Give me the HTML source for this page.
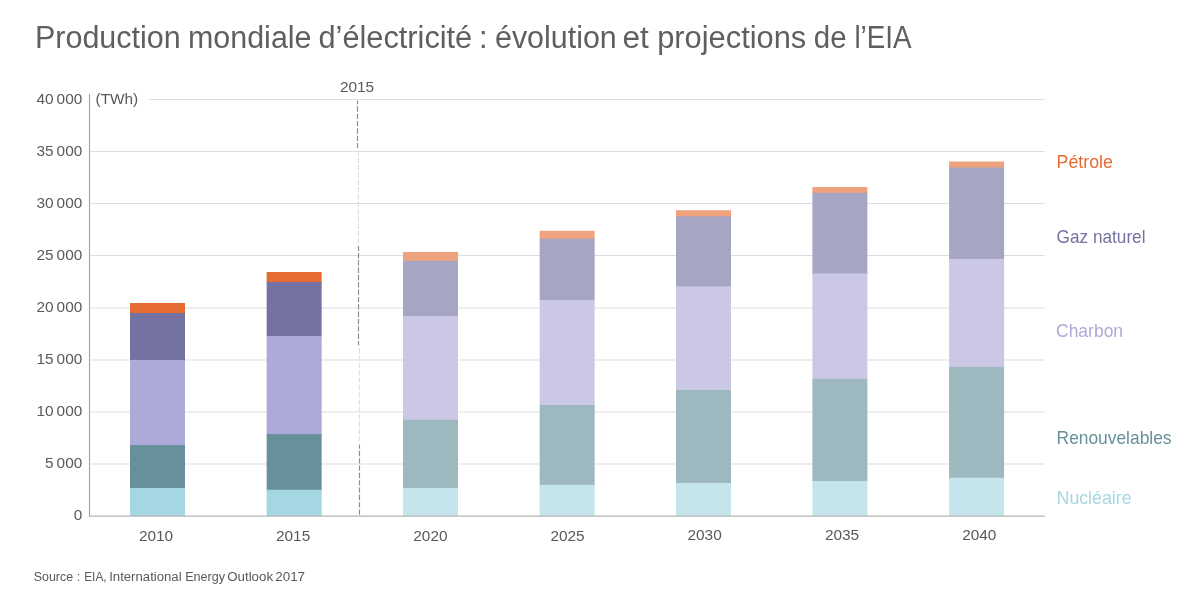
<!DOCTYPE html>
<html lang="fr">
<head>
<meta charset="utf-8">
<title>Production mondiale d’électricité</title>
<style>
html,body{margin:0;padding:0;background:#fff;}
body{width:1200px;height:600px;overflow:hidden;}
svg{display:block;}
text{font-family:"Liberation Sans",sans-serif;}
</style>
</head>
<body>
<svg width="1200" height="600" viewBox="0 0 1200 600">
<rect x="0" y="0" width="1200" height="600" fill="#ffffff"/>

<line x1="149" y1="99.5" x2="1044.5" y2="99.5" stroke="#dcdde0" stroke-width="1"/>
<line x1="90" y1="151.5" x2="1044.5" y2="151.5" stroke="#dcdde0" stroke-width="1"/>
<line x1="90" y1="203.5" x2="1044.5" y2="203.5" stroke="#dcdde0" stroke-width="1"/>
<line x1="90" y1="255.5" x2="1044.5" y2="255.5" stroke="#dcdde0" stroke-width="1"/>
<line x1="90" y1="308" x2="1044.5" y2="308" stroke="#dcdde0" stroke-width="1"/>
<line x1="90" y1="360" x2="1044.5" y2="360" stroke="#dcdde0" stroke-width="1"/>
<line x1="90" y1="412" x2="1044.5" y2="412" stroke="#dcdde0" stroke-width="1"/>
<line x1="90" y1="464" x2="1044.5" y2="464" stroke="#dcdde0" stroke-width="1"/>
<line x1="357.5" y1="100.5" x2="357.5" y2="148" stroke="#8c8c92" stroke-width="1.15" stroke-dasharray="5.33 2" stroke-dashoffset="1.5"/>
<line x1="358.4" y1="148" x2="358.4" y2="246" stroke="#dddde0" stroke-width="1.15" stroke-dasharray="5.33 2" stroke-dashoffset="5.02"/>
<line x1="358.5" y1="246" x2="358.5" y2="345" stroke="#8c8c92" stroke-width="1.15" stroke-dasharray="5.33 2" stroke-dashoffset="0.4"/>
<line x1="359.3" y1="345" x2="359.3" y2="445" stroke="#dddde0" stroke-width="1.15" stroke-dasharray="5.33 2" stroke-dashoffset="4.11"/>
<line x1="359.5" y1="445" x2="359.5" y2="516" stroke="#8c8c92" stroke-width="1.15" stroke-dasharray="5.33 2" stroke-dashoffset="1.49"/>
<rect x="130" y="303" width="55" height="11" fill="#E46C32"/>
<rect x="130" y="313" width="55" height="48" fill="#7472A2"/>
<rect x="130" y="360" width="55" height="86" fill="#ADA9D8"/>
<rect x="130" y="445" width="55" height="44" fill="#66909A"/>
<rect x="130" y="488" width="55" height="28" fill="#A5D7E2"/>
<rect x="266.65" y="272" width="55" height="11" fill="#E46C32"/>
<rect x="266.65" y="282" width="55" height="55" fill="#7472A2"/>
<rect x="266.65" y="336" width="55" height="99.2" fill="#ADA9D8"/>
<rect x="266.65" y="434.2" width="55" height="56.5" fill="#66909A"/>
<rect x="266.65" y="489.7" width="55" height="26.3" fill="#A5D7E2"/>
<rect x="403" y="252" width="55" height="9.8" fill="#EFA27E"/>
<rect x="403" y="260.8" width="55" height="56.2" fill="#A6A6C4"/>
<rect x="403" y="316" width="55" height="104.7" fill="#CBC8E5"/>
<rect x="403" y="419.7" width="55" height="69.2" fill="#9EB8BF"/>
<rect x="403" y="487.9" width="55" height="28.1" fill="#C4E5EC"/>
<rect x="539.65" y="230.8" width="55" height="8.9" fill="#EFA27E"/>
<rect x="539.65" y="238.7" width="55" height="62.3" fill="#A6A6C4"/>
<rect x="539.65" y="300" width="55" height="106" fill="#CBC8E5"/>
<rect x="539.65" y="405" width="55" height="80.8" fill="#9EB8BF"/>
<rect x="539.65" y="484.8" width="55" height="31.2" fill="#C4E5EC"/>
<rect x="676" y="210.2" width="55" height="7.1" fill="#EFA27E"/>
<rect x="676" y="216.3" width="55" height="71.1" fill="#A6A6C4"/>
<rect x="676" y="286.4" width="55" height="104.6" fill="#CBC8E5"/>
<rect x="676" y="390" width="55" height="94" fill="#9EB8BF"/>
<rect x="676" y="483" width="55" height="33" fill="#C4E5EC"/>
<rect x="812.4" y="187" width="55" height="6.8" fill="#EFA27E"/>
<rect x="812.4" y="192.8" width="55" height="81.6" fill="#A6A6C4"/>
<rect x="812.4" y="273.4" width="55" height="106.5" fill="#CBC8E5"/>
<rect x="812.4" y="378.9" width="55" height="103.1" fill="#9EB8BF"/>
<rect x="812.4" y="481" width="55" height="35" fill="#C4E5EC"/>
<rect x="949.1" y="161.5" width="55" height="7.0" fill="#EFA27E"/>
<rect x="949.1" y="167.5" width="55" height="92.4" fill="#A6A6C4"/>
<rect x="949.1" y="258.9" width="55" height="109.0" fill="#CBC8E5"/>
<rect x="949.1" y="366.9" width="55" height="111.85" fill="#9EB8BF"/>
<rect x="949.1" y="477.75" width="55" height="38.25" fill="#C4E5EC"/>
<line x1="89.5" y1="94" x2="89.5" y2="516.7" stroke="#a3a3a3" stroke-width="1.1"/>
<line x1="89" y1="516.15" x2="1045" y2="516.15" stroke="#b4b4b4" stroke-width="1.3"/>
<text x="82.3" y="104.3" font-size="15.4" fill="#595959" text-anchor="end" style="word-spacing:-1.2px">40 000</text>
<text x="82.3" y="156.2" font-size="15.4" fill="#595959" text-anchor="end" style="word-spacing:-1.2px">35 000</text>
<text x="82.3" y="208.1" font-size="15.4" fill="#595959" text-anchor="end" style="word-spacing:-1.2px">30 000</text>
<text x="82.3" y="260.0" font-size="15.4" fill="#595959" text-anchor="end" style="word-spacing:-1.2px">25 000</text>
<text x="82.3" y="311.9" font-size="15.4" fill="#595959" text-anchor="end" style="word-spacing:-1.2px">20 000</text>
<text x="82.3" y="363.8" font-size="15.4" fill="#595959" text-anchor="end" style="word-spacing:-1.2px">15 000</text>
<text x="82.3" y="415.7" font-size="15.4" fill="#595959" text-anchor="end" style="word-spacing:-1.2px">10 000</text>
<text x="82.3" y="467.6" font-size="15.4" fill="#595959" text-anchor="end" style="word-spacing:-1.2px">5 000</text>
<text x="82.3" y="519.5" font-size="15.4" fill="#595959" text-anchor="end" style="word-spacing:-1.2px">0</text>
<text x="95.5" y="104.2" font-size="15.4" fill="#595959">(TWh)</text>
<text x="357" y="92" font-size="15.4" fill="#595959" text-anchor="middle">2015</text>
<text x="156" y="541" font-size="15.4" fill="#595959" text-anchor="middle">2010</text>
<text x="293.1" y="541" font-size="15.4" fill="#595959" text-anchor="middle">2015</text>
<text x="430.4" y="541" font-size="15.4" fill="#595959" text-anchor="middle">2020</text>
<text x="567.5" y="541" font-size="15.4" fill="#595959" text-anchor="middle">2025</text>
<text x="704.6" y="540" font-size="15.4" fill="#595959" text-anchor="middle">2030</text>
<text x="842" y="540" font-size="15.4" fill="#595959" text-anchor="middle">2035</text>
<text x="979.3" y="540" font-size="15.4" fill="#595959" text-anchor="middle">2040</text>
<text x="1056.6" y="167.5" font-size="18.4" fill="#E46C32" textLength="56.3" lengthAdjust="spacingAndGlyphs">Pétrole</text>
<text x="1056.6" y="242.5" font-size="18.4" fill="#7472A2" textLength="88.9" lengthAdjust="spacingAndGlyphs">Gaz naturel</text>
<text x="1056" y="337" font-size="18.4" fill="#ADA9D8" textLength="67.1" lengthAdjust="spacingAndGlyphs">Charbon</text>
<text x="1056.6" y="443.6" font-size="18.4" fill="#66909A" textLength="114.9" lengthAdjust="spacingAndGlyphs">Renouvelables</text>
<text x="1056.6" y="503.6" font-size="18.4" fill="#A5D7E2" textLength="74.9" lengthAdjust="spacingAndGlyphs">Nucléaire</text>
<text x="35" y="48" font-size="30.8" fill="#5f5f5f" textLength="145.7" lengthAdjust="spacingAndGlyphs">Production</text>
<text x="188" y="48" font-size="30.8" fill="#5f5f5f" textLength="123.5" lengthAdjust="spacingAndGlyphs">mondiale</text>
<text x="318.5" y="48" font-size="30.8" fill="#5f5f5f" textLength="153.7" lengthAdjust="spacingAndGlyphs">d’électricité</text>
<text x="479" y="48" font-size="30.8" fill="#5f5f5f">:</text>
<text x="495" y="48" font-size="30.8" fill="#5f5f5f" textLength="121.7" lengthAdjust="spacingAndGlyphs">évolution</text>
<text x="622.5" y="48" font-size="30.8" fill="#5f5f5f" textLength="26.3" lengthAdjust="spacingAndGlyphs">et</text>
<text x="657.2" y="48" font-size="30.8" fill="#5f5f5f" textLength="149.1" lengthAdjust="spacingAndGlyphs">projections</text>
<text x="813.8" y="48" font-size="30.8" fill="#5f5f5f" textLength="32.8" lengthAdjust="spacingAndGlyphs">de</text>
<text x="854.4" y="48" font-size="30.8" fill="#5f5f5f" textLength="57.2" lengthAdjust="spacingAndGlyphs">l’EIA</text>
<text x="33.7" y="580.5" font-size="12.5" fill="#595959" textLength="39.4" lengthAdjust="spacingAndGlyphs">Source</text>
<text x="76.8" y="580.5" font-size="12.5" fill="#595959">:</text>
<text x="84.2" y="580.5" font-size="12.5" fill="#595959" textLength="22.4" lengthAdjust="spacingAndGlyphs">EIA,</text>
<text x="109.2" y="580.5" font-size="12.5" fill="#595959" textLength="72.4" lengthAdjust="spacingAndGlyphs">International</text>
<text x="185.2" y="580.5" font-size="12.5" fill="#595959" textLength="39.9" lengthAdjust="spacingAndGlyphs">Energy</text>
<text x="227.2" y="580.5" font-size="12.5" fill="#595959" textLength="45.9" lengthAdjust="spacingAndGlyphs">Outlook</text>
<text x="275.2" y="580.5" font-size="12.5" fill="#595959" textLength="29.9" lengthAdjust="spacingAndGlyphs">2017</text>
</svg>
</body>
</html>
